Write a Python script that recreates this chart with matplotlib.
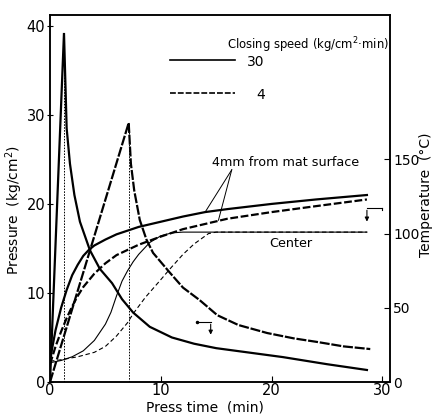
"""Mat pressure and temperature during hot pressing at two closing speeds."""

import matplotlib
matplotlib.use("Agg")
import matplotlib.pyplot as plt

# ---------------------------------------------------------------------------
# Data (press time in min, pressure in kg/cm2, temperature in deg C)
# ---------------------------------------------------------------------------

# pressure, closing speed 30 kg/cm2*min
P30_T = [0, 1.26, 1.4, 1.5, 1.8, 2.2, 2.7, 3.6, 4.5, 5.6, 6.5, 7.5, 9, 11, 13, 15, 18, 21, 25, 28.6]
P30_P = [0, 39.2, 33, 28.5, 24.5, 21, 18, 14.8, 12.7, 11.1, 9.3, 7.8, 6.2, 5.0, 4.3, 3.8, 3.3, 2.8, 2.0, 1.35]

# pressure, closing speed 4 kg/cm2*min
P4_T = [0, 7.1, 7.3, 7.6, 8.1, 8.7, 9.3, 10.8, 12, 13.5, 15.1, 17, 19.6, 22, 24.1, 26.5, 28.9]
P4_P = [0, 29.1, 24.5, 21.5, 18.2, 16, 14.5, 12.3, 10.6, 9.2, 7.5, 6.4, 5.5, 4.9, 4.5, 4.0, 3.7]

# temperature 4mm from mat surface
S30_T = [0, 0.5, 1, 1.5, 2, 2.5, 3, 3.5, 4, 5, 6, 7, 8, 10, 12, 14, 16, 20, 24, 28.6]
S30_C = [15, 35, 50, 62, 72, 79, 85, 89, 92, 96, 99.5, 102, 104.5, 108, 111.5, 114.5, 116.5, 120, 123, 126]
S4_T = [0, 0.5, 1, 1.5, 2, 2.5, 3, 4, 5, 6, 7, 8, 10, 12, 14, 16, 20, 24, 28.6]
S4_C = [12, 24, 34, 43, 51, 58, 64, 73, 80, 85.5, 89, 92.5, 98, 103, 106.5, 110, 114.5, 118.5, 123]

# temperature at mat center
C30_T = [0, 1, 2, 3, 4, 5, 5.5, 6, 6.5, 7, 7.5, 8, 9, 10, 11, 12, 28.6]
C30_C = [13, 14.5, 17, 21, 28, 39, 47, 58, 68, 75, 81, 86, 94, 98.5, 100.5, 101, 101]
C4_T = [0, 1, 2.5, 4, 5, 6, 7, 7.5, 8.6, 10, 10.8, 12, 13, 14.3, 15, 28.6]
C4_C = [14, 15, 17, 20, 24, 31, 40, 46, 57, 69, 76, 86, 93, 100, 101, 101]

# time at which each closing speed reaches its peak pressure
PEAK_T = [1.26, 7.1]
PEAK_P = [39.2, 29.1]

P_TICKS = [0, 10, 20, 30, 40]
C_TICKS = [0, 50, 100, 150]
T_TICKS = [0, 10, 20, 30]

THICK = 1.6
THIN = 0.8
DASH_THICK = (3.5, 1.2)
DASH_THIN = (4, 2.5)

plt.rcParams["font.family"] = ["DejaVu Sans"]

fig = plt.figure(figsize=(4.35, 4.15), dpi=100)
ax = fig.add_axes([0.115, 0.0795, 0.782, 0.884])
ax2 = ax.twinx()

ax.set_xlim(0, 30.7)
ax.set_ylim(0, 41.2)
ax2.set_ylim(0, 41.2 * 6)

# ---------------------------------------------------------------------------
# Pressure curves (left axis)
# ---------------------------------------------------------------------------

ax.plot(P30_T, P30_P, color="black", lw=THICK, solid_joinstyle="miter")
ax.plot(P4_T, P4_P, color="black", lw=THICK, dashes=(4.5, 0.8))
for t, p in zip(PEAK_T, PEAK_P):
    ax.plot([t, t], [0, p], color="black", lw=0.7, dashes=(1.6, 1.4))

# ---------------------------------------------------------------------------
# Temperature curves (right axis)
# ---------------------------------------------------------------------------

ax2.plot(S30_T, S30_C, color="black", lw=THICK)
ax2.plot(S4_T, S4_C, color="black", lw=THICK, dashes=DASH_THICK)
ax2.plot(C30_T, C30_C, color="black", lw=THIN)
ax2.plot(C4_T, C4_C, color="black", lw=THIN, dashes=DASH_THIN)

# ---------------------------------------------------------------------------
# Legend and labels
# ---------------------------------------------------------------------------

ax.text(0.52, 0.918, "Closing speed (kg/cm$^2$\u00b7min)", transform=ax.transAxes,
        fontsize=8.4, ha="left", va="center")
ax.plot([0.353, 0.544], [0.877, 0.877], transform=ax.transAxes, color="black", lw=1.2)
ax.plot([0.353, 0.544], [0.787, 0.787], transform=ax.transAxes, color="black", lw=1.2,
        dashes=DASH_THICK)
ax.text(0.605, 0.872, "30", transform=ax.transAxes, fontsize=10, ha="center", va="center")
ax.text(0.62, 0.782, "4", transform=ax.transAxes, fontsize=10, ha="center", va="center")

ax2.text(21.3, 148, "4mm from mat surface", fontsize=9.2, ha="center", va="center")
ax2.plot([16.4, 14.0], [143, 114.5], color="black", lw=0.7)
ax2.plot([16.4, 15.2], [143, 109], color="black", lw=0.7)
ax2.text(21.7, 93, "Center", fontsize=9.2, ha="center", va="center")

# axis markers: left one points down to the pressure curves, right one to temperature
ax.plot([13.3], [6.74], marker="o", ms=1.5, color="black")
ax.annotate("", xy=(14.5, 5.0), xytext=(14.5, 6.8),
            arrowprops=dict(arrowstyle="-|>", lw=0.8, color="black", mutation_scale=6))
ax.plot([13.3, 14.5], [6.74, 6.74], color="black", lw=0.8)
ax.plot([30.0, 30.0], [19.55, 19.3], color="black", lw=0.8)
ax.plot([30.0, 28.6], [19.55, 19.55], color="black", lw=0.8)
ax.annotate("", xy=(28.6, 17.7), xytext=(28.6, 19.6),
            arrowprops=dict(arrowstyle="-|>", lw=0.8, color="black", mutation_scale=6))

ax.set_xlabel("Press time  (min)", fontsize=10, va="center")
ax.xaxis.set_label_coords(0.455, -0.07)
ax.set_ylabel("Pressure  (kg/cm$^2$)", fontsize=10, va="center")
ax.yaxis.set_label_coords(-0.105, 0.47)
ax2.set_ylabel("Temperature  (\u00b0C)", fontsize=10, rotation=90, va="center")
ax2.yaxis.set_label_coords(1.106, 0.51)

ax.set_xticks(T_TICKS)
ax.set_yticks(P_TICKS)
ax2.set_yticks(C_TICKS)
ax.tick_params(axis="x", direction="in", length=4, labelsize=10.5, pad=1)
ax.tick_params(axis="y", direction="inout", length=5, labelsize=10.5, pad=1)
ax2.tick_params(axis="y", direction="in", length=4, labelsize=10, pad=2)
for spine in list(ax.spines.values()) + list(ax2.spines.values()):
    spine.set_linewidth(1.1)

fig.savefig("out.png", dpi=100, facecolor="white")
